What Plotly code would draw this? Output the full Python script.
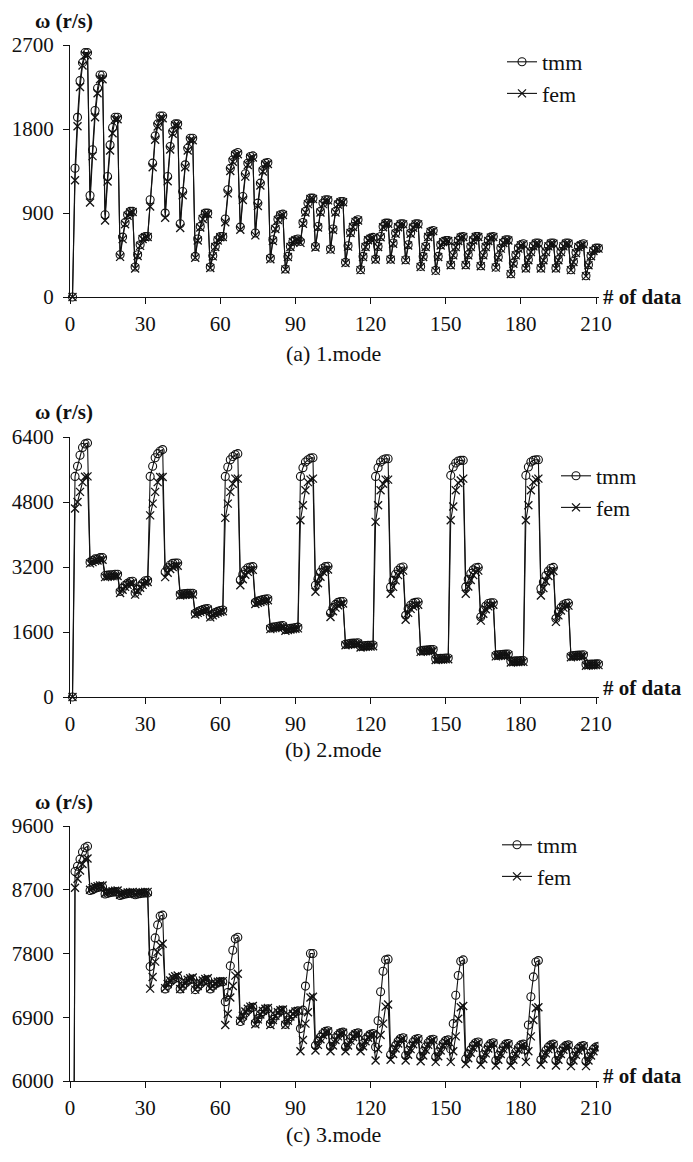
import plotly.graph_objects as go

# ---------------- data ----------------
x_index = list(range(1, 212))
x_ticks = [0, 30, 60, 90, 120, 150, 180, 210]

y1_ticks = [0, 900, 1800, 2700]
y2_ticks = [0, 1600, 3200, 4800, 6400]
y3_ticks = [6000, 6900, 7800, 8700, 9600]

mode1_tmm = [0,
    1379, 1925, 2318, 2511, 2618, 2618,
    1088, 1577, 1998, 2236, 2379, 2379,
    881, 1291, 1630, 1816, 1926, 1926,
    453, 642, 799, 881, 917, 917,
    321, 453, 560, 631, 649, 649,
    1042, 1434, 1726, 1855, 1940, 1940,
    899, 1291, 1612, 1773, 1855, 1855,
    785, 1131, 1416, 1594, 1701, 1701,
    435, 621, 756, 845, 899, 899,
    321, 442, 542, 614, 649, 649,
    835, 1149, 1380, 1469, 1534, 1548,
    749, 1077, 1320, 1434, 1505, 1512,
    685, 1006, 1220, 1362, 1434, 1441,
    417, 613, 738, 834, 881, 888,
    300, 435, 542, 596, 614, 621,
    596, 799, 917, 1006, 1059, 1059,
    542, 756, 917, 1006, 1042, 1042,
    514, 728, 917, 998, 1024, 1024,
    371, 549, 692, 756, 810, 827,
    293, 435, 542, 614, 631, 639,
    406, 542, 649, 756, 792, 792,
    406, 578, 685, 756, 785, 785,
    399, 560, 685, 749, 785, 785,
    328, 435, 542, 649, 703, 713,
    285, 435, 560, 595, 606, 606,
    345, 453, 542, 606, 642, 649,
    345, 453, 542, 613, 649, 649,
    335, 453, 542, 606, 642, 649,
    320, 428, 524, 585, 613, 613,
    249, 363, 453, 524, 560, 571,
    310, 399, 488, 549, 578, 578,
    310, 399, 488, 549, 578, 578,
    310, 399, 488, 549, 578, 578,
    292, 381, 477, 542, 560, 571,
    228, 345, 442, 499, 524, 524]

mode1_fem = [0,
    1250, 1830, 2250, 2480, 2590, 2590,
    1013, 1509, 1926, 2183, 2333, 2333,
    820, 1238, 1570, 1755, 1905, 1905,
    430, 620, 780, 870, 905, 910,
    305, 440, 548, 622, 640, 642,
    970, 1391, 1684, 1826, 1915, 1915,
    850, 1240, 1580, 1750, 1840, 1840,
    740, 1090, 1390, 1570, 1680, 1680,
    420, 605, 745, 835, 890, 890,
    310, 435, 535, 605, 640, 642,
    800, 1110, 1350, 1450, 1520, 1530,
    720, 1040, 1290, 1415, 1490, 1495,
    660, 975, 1195, 1345, 1420, 1425,
    405, 600, 728, 825, 872, 878,
    295, 428, 535, 590, 608, 614,
    580, 785, 905, 995, 1050, 1050,
    530, 745, 905, 995, 1035, 1035,
    505, 718, 905, 990, 1015, 1015,
    365, 540, 685, 750, 805, 820,
    288, 428, 535, 608, 625, 632,
    400, 535, 640, 748, 785, 785,
    400, 570, 678, 748, 778, 778,
    392, 552, 678, 742, 778, 778,
    322, 428, 535, 642, 697, 706,
    280, 428, 552, 588, 600, 600,
    340, 446, 535, 600, 636, 642,
    340, 446, 535, 606, 642, 642,
    330, 446, 535, 600, 636, 642,
    315, 422, 518, 578, 606, 606,
    245, 357, 446, 518, 553, 564,
    305, 393, 482, 542, 571, 571,
    305, 393, 482, 542, 571, 571,
    305, 393, 482, 542, 571, 571,
    288, 375, 470, 535, 553, 564,
    224, 340, 436, 492, 518, 518]

mode2_tmm = [0,
    5430, 5680, 5950, 6140, 6230, 6250,
    3320, 3360, 3400, 3400, 3430, 3430,
    2990, 3000, 3010, 3010, 3020, 3020,
    2600, 2680, 2750, 2800, 2840, 2850,
    2560, 2650, 2730, 2800, 2860, 2870,
    5430, 5680, 5890, 5990, 6055, 6090,
    3080, 3180, 3250, 3290, 3300, 3300,
    2530, 2540, 2545, 2550, 2555, 2555,
    2060, 2100, 2130, 2150, 2170, 2180,
    1990, 2040, 2080, 2110, 2130, 2140,
    5430, 5660, 5840, 5920, 5965, 5990,
    2880, 3020, 3120, 3180, 3200, 3210,
    2330, 2360, 2380, 2400, 2410, 2420,
    1700, 1720, 1730, 1740, 1750, 1760,
    1660, 1680, 1690, 1700, 1710, 1720,
    5430, 5645, 5785, 5840, 5880, 5890,
    2750, 2910, 3070, 3170, 3210, 3220,
    2070, 2200, 2280, 2330, 2350, 2350,
    1300, 1310, 1320, 1325, 1330, 1335,
    1250, 1260, 1265, 1270, 1275, 1280,
    5430, 5645, 5785, 5840, 5865, 5865,
    2710, 2870, 3020, 3120, 3180, 3200,
    2010, 2170, 2260, 2310, 2330, 2340,
    1140, 1150, 1155, 1160, 1165, 1170,
    940, 945, 950, 955, 960, 960,
    5455, 5660, 5760, 5810, 5825, 5825,
    2710, 2900, 3040, 3130, 3180, 3190,
    1970, 2130, 2240, 2300, 2320, 2320,
    1030, 1040, 1045, 1050, 1055, 1060,
    880, 885, 890, 890, 895, 895,
    5455, 5660, 5785, 5825, 5840, 5840,
    2670, 2830, 2990, 3100, 3170, 3190,
    1930, 2090, 2200, 2270, 2300, 2310,
    1010, 1020, 1025, 1030, 1035, 1040,
    800, 805, 810, 810, 815, 815]

mode2_fem = [0,
    4640, 4800, 5050, 5290, 5420, 5430,
    3290, 3320, 3350, 3360, 3380, 3380,
    2950, 2960, 2970, 2975, 2980, 2980,
    2560, 2640, 2710, 2760, 2800, 2810,
    2520, 2610, 2690, 2760, 2820, 2830,
    4470, 4760, 5050, 5290, 5415, 5415,
    2950, 3060, 3150, 3200, 3220, 3230,
    2500, 2510, 2515, 2520, 2525, 2525,
    2030, 2070, 2100, 2120, 2140, 2150,
    1960, 2010, 2050, 2080, 2100, 2110,
    4410, 4760, 5050, 5250, 5375, 5375,
    2750, 2900, 3010, 3080, 3120, 3130,
    2290, 2320, 2340, 2360, 2370, 2380,
    1670, 1690, 1700, 1710, 1720, 1730,
    1630, 1650, 1660, 1670, 1680, 1690,
    4350, 4720, 5090, 5290, 5350, 5375,
    2590, 2800, 2960, 3080, 3130, 3140,
    1970, 2110, 2200, 2260, 2290, 2300,
    1275, 1285, 1295, 1300, 1305, 1310,
    1220, 1230, 1235, 1240, 1245, 1250,
    4310, 4720, 5090, 5250, 5350, 5350,
    2540, 2710, 2870, 3000, 3080, 3110,
    1900, 2070, 2170, 2230, 2260, 2270,
    1110, 1120, 1125, 1130, 1135, 1140,
    910, 915, 920, 925, 930, 930,
    4350, 4690, 5090, 5270, 5330, 5375,
    2540, 2720, 2880, 3000, 3080, 3110,
    1880, 2050, 2160, 2230, 2260, 2270,
    1000, 1010, 1015, 1020, 1025, 1030,
    850, 855, 860, 860, 865, 865,
    4350, 4720, 5090, 5290, 5350, 5375,
    2500, 2680, 2850, 2980, 3070, 3100,
    1850, 2010, 2130, 2200, 2240, 2250,
    980, 990, 995, 1000, 1005, 1010,
    770, 775, 780, 780, 785, 785]

mode3_tmm = [0,
    8957, 9031, 9132, 9233, 9292, 9315,
    8690, 8700, 8720, 8730, 8740, 8740,
    8640, 8650, 8660, 8665, 8670, 8670,
    8620, 8630, 8640, 8645, 8650, 8650,
    8630, 8640, 8645, 8650, 8655, 8655,
    7616, 7800, 8020, 8204, 8328, 8342,
    7300, 7350, 7400, 7430, 7450, 7460,
    7300, 7340, 7380, 7410, 7430, 7440,
    7290, 7330, 7370, 7400, 7420, 7430,
    7300, 7340, 7370, 7390, 7400, 7400,
    7120, 7250, 7625, 7846, 8007, 8030,
    6840, 6900, 6960, 7000, 7030, 7040,
    6820, 6880, 6940, 6980, 7010, 7020,
    6810, 6870, 6920, 6960, 6990, 7000,
    6800, 6860, 6910, 6950, 6980, 6990,
    6740, 7000, 7340, 7620, 7800, 7800,
    6500, 6560, 6620, 6670, 6700, 6710,
    6490, 6550, 6610, 6650, 6680, 6690,
    6480, 6540, 6600, 6640, 6670, 6680,
    6480, 6530, 6590, 6630, 6660, 6670,
    6480, 6850, 7260, 7550, 7710, 7720,
    6370, 6440, 6500, 6560, 6600, 6610,
    6360, 6430, 6490, 6550, 6590, 6600,
    6350, 6420, 6480, 6540, 6580, 6590,
    6340, 6410, 6470, 6530, 6570, 6580,
    6450, 6810, 7210, 7490, 7690, 7710,
    6310, 6380, 6440, 6500, 6540, 6550,
    6300, 6370, 6430, 6490, 6530, 6540,
    6290, 6360, 6420, 6480, 6520, 6530,
    6290, 6350, 6410, 6470, 6510, 6520,
    6440, 6790, 7190, 7470, 7680, 7700,
    6300, 6370, 6430, 6480, 6510, 6520,
    6290, 6360, 6420, 6470, 6500, 6510,
    6280, 6350, 6410, 6460, 6490, 6500,
    6280, 6340, 6400, 6450, 6480, 6490]

mode3_fem = [0,
    8728, 8856, 8971, 9063, 9132, 9141,
    8700, 8720, 8740, 8750, 8760, 8760,
    8650, 8660, 8670, 8680, 8685, 8690,
    8630, 8640, 8650, 8660, 8665, 8670,
    8640, 8650, 8660, 8665, 8670, 8670,
    7304, 7469, 7685, 7823, 7915, 7938,
    7310, 7370, 7420, 7460, 7480, 7490,
    7300, 7350, 7400, 7430, 7450, 7460,
    7290, 7340, 7390, 7420, 7440, 7450,
    7310, 7350, 7380, 7400, 7410, 7410,
    6790, 6950, 7180, 7341, 7488, 7515,
    6850, 6920, 6980, 7020, 7050, 7060,
    6800, 6870, 6940, 6990, 7020, 7030,
    6790, 6860, 6920, 6970, 7000, 7010,
    6790, 6850, 6910, 6950, 6980, 6990,
    6420, 6580, 6810, 6970, 7180, 7190,
    6430, 6510, 6590, 6650, 6690, 6700,
    6420, 6500, 6580, 6630, 6670, 6680,
    6420, 6500, 6570, 6620, 6660, 6670,
    6420, 6490, 6560, 6610, 6650, 6660,
    6290, 6450, 6650, 6810, 7050, 7080,
    6300, 6380, 6460, 6530, 6580, 6600,
    6290, 6370, 6450, 6520, 6570, 6590,
    6280, 6360, 6440, 6510, 6560, 6580,
    6270, 6350, 6430, 6500, 6550, 6570,
    6270, 6420, 6630, 6880, 7040, 7060,
    6240, 6320, 6400, 6470, 6520, 6540,
    6230, 6310, 6390, 6460, 6510, 6530,
    6220, 6300, 6380, 6450, 6500, 6520,
    6220, 6300, 6380, 6440, 6490, 6510,
    6270, 6420, 6630, 6860, 7030, 7040,
    6230, 6310, 6390, 6450, 6490, 6510,
    6220, 6300, 6380, 6440, 6480, 6500,
    6210, 6290, 6370, 6430, 6470, 6490,
    6210, 6290, 6360, 6420, 6460, 6480]

series_names = ["tmm", "fem"]
captions = ["(a) 1.mode", "(b) 2.mode", "(c) 3.mode"]

# ---------------- layout helpers ----------------
# the page body keeps its default 8px margin, so the figure is sized to fill
# the 693x1162 window exactly and positions below are given in window pixels.
PAGE_W, PAGE_H, OFF = 693, 1162, 8
W, H = PAGE_W - 2 * OFF, PAGE_H - 2 * OFF
FONT = "Liberation Serif"
INK = "#111111"


def px_x(p):
    return (p - OFF) / W


def px_y(p):
    return 1 - (p - OFF) / H


# panel pixel geometry in window coordinates: (top tick, bottom tick)
panels = [(45, 297), (437, 697), (826, 1081)]
x_left, x_right = 70, 598.5
y_ranges = [[0, 2700], [0, 6400], [6000, 9600]]
y_tick_sets = [y1_ticks, y2_ticks, y3_ticks]
data_sets = [(mode1_tmm, mode1_fem), (mode2_tmm, mode2_fem), (mode3_tmm, mode3_fem)]
legend_pos = [(502, 41), (556, 455), (497, 824)]
hash_label_y = [297, 688, 1076]
omega_y = [21, 412, 802]
caption_y = [353, 749, 1134]

fig = go.Figure()

for i, (tmm, fem) in enumerate(data_sets):
    sfx = "" if i == 0 else str(i + 1)
    leg = "legend" if i == 0 else f"legend{i + 1}"
    clip = i == 2
    fig.add_trace(go.Scatter(
        x=x_index, y=tmm, name=series_names[0], mode="lines+markers",
        xaxis="x" + sfx, yaxis="y" + sfx, legend=leg, legendgroup=f"t{i}",
        cliponaxis=clip,
        line=dict(color=INK, width=1.1),
        marker=dict(symbol="circle-open", size=8, color=INK, line=dict(width=1.1, color=INK)),
    ))
    fig.add_trace(go.Scatter(
        x=x_index, y=fem, name=series_names[1], mode="lines+markers",
        xaxis="x" + sfx, yaxis="y" + sfx, legend=leg, legendgroup=f"f{i}",
        cliponaxis=clip,
        line=dict(color=INK, width=1.1),
        marker=dict(symbol="x-thin-open", size=8, color=INK, line=dict(width=1.3, color=INK)),
    ))

layout = dict(
    template="none",
    width=W, height=H,
    margin=dict(l=0, r=0, t=0, b=0, pad=0, autoexpand=False),
    paper_bgcolor="white", plot_bgcolor="white",
    font=dict(family=FONT, size=21, color=INK),
    annotations=[],
)

for i in range(3):
    sfx = "" if i == 0 else str(i + 1)
    top, bot = panels[i]
    layout["xaxis" + sfx] = dict(
        domain=[px_x(x_left), px_x(x_right)], range=[0, 211],
        anchor="y" + sfx, tickmode="array", tickvals=x_ticks,
        showline=True, linecolor=INK, linewidth=1, ticks="outside", ticklen=6,
        tickcolor=INK, showgrid=False, zeroline=False, ticklabelstandoff=2,
        automargin=False,
        tickfont=dict(family=FONT, size=21, color=INK),
    )
    layout["yaxis" + sfx] = dict(
        domain=[px_y(bot), px_y(top)], range=y_ranges[i],
        anchor="x" + sfx, tickmode="array", tickvals=y_tick_sets[i],
        showline=True, linecolor=INK, linewidth=1, ticks="outside", ticklen=6,
        tickcolor=INK, showgrid=False, zeroline=False, ticklabelstandoff=5,
        automargin=False,
        tickfont=dict(family=FONT, size=21, color=INK),
    )
    lx, ly = legend_pos[i]
    layout["legend" if i == 0 else f"legend{i + 1}"] = dict(
        x=px_x(lx), y=px_y(ly), xanchor="left", yanchor="top",
        bgcolor="rgba(0,0,0,0)", borderwidth=0, tracegroupgap=0,
        font=dict(family=FONT, size=22, color=INK),
    )
    layout["annotations"] += [
        dict(text="<b>ω (r/s)</b>", x=px_x(64), y=px_y(omega_y[i]), xref="paper", yref="paper",
             showarrow=False, xanchor="center", yanchor="middle",
             font=dict(family=FONT, size=21, color=INK)),
        dict(text="<b># of data</b>", x=px_x(601), y=px_y(hash_label_y[i]), xref="paper", yref="paper",
             showarrow=False, xanchor="left", yanchor="middle",
             font=dict(family=FONT, size=21, color=INK)),
        dict(text=captions[i], x=px_x(333), y=px_y(caption_y[i]), xref="paper", yref="paper",
             showarrow=False, xanchor="center", yanchor="middle",
             font=dict(family=FONT, size=22, color=INK)),
    ]

fig.update_layout(**layout)
fig.write_html("out.html")
